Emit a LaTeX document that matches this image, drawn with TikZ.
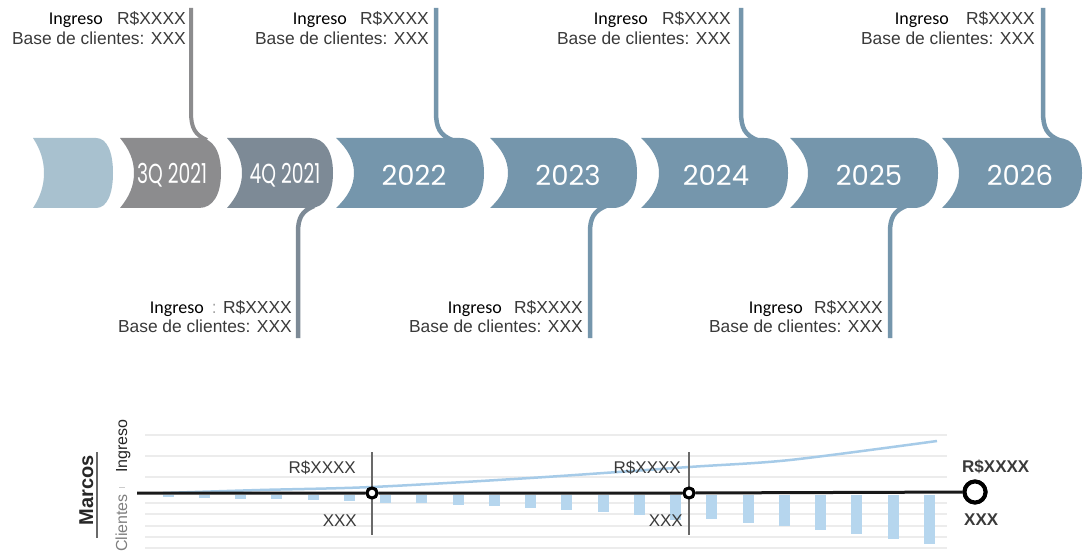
\documentclass[tikz,border=0pt]{standalone}
\usepackage{fontspec}
\usepackage{graphicx}
\setmainfont{Liberation Sans}
\newfontfamily\carl{Carlito}
\newfontfamily\pop{Poppins}
\definecolor{sLight}{RGB}{168,193,207}
\definecolor{sGrey}{RGB}{140,140,142}
\definecolor{sGreyBlue}{RGB}{125,138,150}
\definecolor{sBlue}{RGB}{117,150,172}
\definecolor{txtGrey}{RGB}{58,58,58}
\definecolor{gridGrey}{RGB}{236,236,236}
\definecolor{barBlue}{RGB}{182,214,238}
\definecolor{lineBlue}{RGB}{166,203,232}
\definecolor{markGrey}{RGB}{105,105,105}
\newcommand\chev[5]{%
  \fill[#5] (#1,138) -- ({#2-#4},138) .. controls ({#2-#4*0.35},138) and (#2,152) .. (#2,173)
    .. controls (#2,194) and ({#2-#4*0.35},208) .. ({#2-#4},208) -- (#1,208)
    .. controls ({#1+#3*0.65},197) and ({#1+#3},186) .. ({#1+#3},173)
    .. controls ({#1+#3},160) and ({#1+#3*0.65},149) .. (#1,138) -- cycle;}
% #1 name, #2 line x, #3 Ingreso right edge, #4 baseline of first line, #5 value text
\newcommand\blocklabel[5]{%
  \node[lbl, anchor=base east] (#1r) at ({#2-6},#4) {#5};
  \node[ingr, anchor=base east] (#1i) at (#3,#4) {Ingreso};
  \node[lbl, anchor=base east] (#1b) at ({#2-6},{#4+19.5}) {Base de clientes: XXX};}
\newcommand\yeartext[3]{\node[yr] (#1) at (#2,175) {#3};}
\begin{document}
\begin{tikzpicture}[x=1pt,y=-1pt,
  lbl/.style={inner sep=0pt, text=txtGrey, font=\fontsize{17.4}{20}\selectfont},
  ingr/.style={inner sep=0pt, text=black, font=\carl\fontsize{18}{21}\selectfont},
  yr/.style={inner sep=0pt, text=white, font=\pop\fontsize{27.5}{30}\selectfont},
  stem/.style={line width=4.5pt},
  grid line/.style={draw=gridGrey, line width=1.2pt},
  chartlbl/.style={inner sep=0pt, text=txtGrey, font=\fontsize{17}{20}\selectfont},
  marker/.style={circle, draw=black, fill=white, line width=3pt, minimum size=10pt, inner sep=0pt}]
\useasboundingbox (0,0) rectangle (1083,553);
\fill[white] (0,0) rectangle (1083,553);

% ---------- stems (up) ----------
\coordinate (tA) at (191,8);
\coordinate (tB) at (436,8);
\coordinate (tC) at (741,8);
\coordinate (tD) at (1043,8);
\coordinate (jA) at (207,140);
\coordinate (jB) at (452,140);
\coordinate (jC) at (757,140);
\coordinate (jD) at (1059,140);
\draw[stem, draw=sGrey, line width=4pt] (tA) -- ++(0,104) .. controls ++(0,16) and ++(-12,-5) .. (jA);
\draw[stem, draw=sBlue] (tB) -- ++(0,104) .. controls ++(0,16) and ++(-12,-5) .. (jB);
\draw[stem, draw=sBlue] (tC) -- ++(0,104) .. controls ++(0,16) and ++(-12,-5) .. (jC);
\draw[stem, draw=sBlue] (tD) -- ++(0,104) .. controls ++(0,16) and ++(-12,-5) .. (jD);
% ---------- stems (down) ----------
\coordinate (bE) at (298,338);
\coordinate (bF) at (590,338);
\coordinate (bG) at (890,338);
\coordinate (kE) at (314,206);
\coordinate (kF) at (606,206);
\coordinate (kG) at (906,206);
\draw[stem, draw=sGreyBlue] (bE) -- ++(0,-106) .. controls ++(0,-14) and ++(-12,5) .. (kE);
\draw[stem, draw=sBlue] (bF) -- ++(0,-106) .. controls ++(0,-14) and ++(-12,5) .. (kF);
\draw[stem, draw=sBlue] (bG) -- ++(0,-106) .. controls ++(0,-14) and ++(-12,5) .. (kG);

% ---------- chevrons ----------
\chev{33}{113}{11}{17}{sLight}
\chev{120}{221}{14}{22}{sGrey}
\chev{227}{333}{15}{23}{sGreyBlue}
\chev{336}{484}{18}{24}{sBlue}
\chev{490}{637}{18}{24}{sBlue}
\chev{641}{788}{18}{24}{sBlue}
\chev{790}{938}{18}{24}{sBlue}
\chev{942}{1082}{17}{24}{sBlue}

\yeartext{q3}{172}{\scalebox{0.68}[1]{3Q 2021}}
\yeartext{q4}{285}{\scalebox{0.68}[1]{4Q 2021}}
\yeartext{y22}{414}{2022}
\yeartext{y23}{568}{2023}
\yeartext{y24}{716}{2024}
\yeartext{y25}{869}{2025}
\yeartext{y26}{1020}{2026}

% ---------- labels ----------
\blocklabel{A}{192}{103}{25}{R\$XXXX}
\blocklabel{B}{435}{347}{25}{R\$XXXX}
\blocklabel{C}{737}{648}{25}{R\$XXXX}
\blocklabel{D}{1041}{949}{25}{R\$XXXX}
\blocklabel{E}{298}{204}{313}{{\color{gray!70}:} R\$XXXX}
\blocklabel{F}{589}{502}{313}{R\$XXXX}
\blocklabel{G}{889}{803}{313}{R\$XXXX}

% ---------- chart ----------
\foreach \gy in {435,456,477,503,514,526,537,548}
  \draw[grid line] (145,\gy) -- (947,\gy);
\foreach \i/\b in {0/497,1/498,2/499,3/499,4/500,5/501,6/503,7/503,8/505,9/506,10/508,11/510,12/512,13/515,14/520,15/519,16/523,17/526,18/530,19/534,20/539,21/544}
  \fill[barBlue] ({168+36.25*\i-5.5},495) rectangle ({168+36.25*\i+5.5},\b);
\draw[lineBlue, line width=2.5pt] plot[smooth] coordinates {(163,493) (260,490) (372,487) (530,478) (689,467) (790,460) (937,441)};

\node[marker] (m1) at (372,493) {};
\node[marker] (m2) at (689,493) {};
\node[marker, line width=4pt, minimum size=21pt] (m3) at (975,492) {};
\coordinate (axL) at (137,493);
\draw[black!90, line width=3pt] (axL) -- (m1) -- (m2) -- (m3);
\coordinate (v1t) at (372,452);
\coordinate (v1b) at (372,535);
\coordinate (v2t) at (689,452);
\coordinate (v2b) at (689,535);
\draw[markGrey, line width=1.5pt] (v1t) -- (m1) -- (v1b);
\draw[markGrey, line width=1.5pt] (v2t) -- (m2) -- (v2b);
\node[marker] at (m1) {};
\node[marker] at (m2) {};
\node[marker, line width=4pt, minimum size=21pt] at (m3) {};

\node[chartlbl, anchor=east] (r1) at (356,468) {R\$XXXX};
\node[chartlbl, anchor=east] (x1) at (357,521) {XXX};
\node[chartlbl, anchor=east] (r2) at (681,468) {R\$XXXX};
\node[chartlbl, anchor=east] (x2) at (683,521) {XXX};
\node[chartlbl, anchor=west, font=\fontsize{17}{20}\selectfont\bfseries] (r3) at (962,467) {R\$XXXX};
\node[chartlbl, anchor=west, font=\fontsize{17}{20}\selectfont\bfseries] (x3) at (964,520) {XXX};

\node[rotate=90, anchor=base, inner sep=0pt, text=black!85, font=\fontsize{20}{24}\selectfont\bfseries] (marcos) at (93,490) {Marcos};
\coordinate (ulT) at (97,452);
\coordinate (ulB) at (97,538);
\draw[markGrey, line width=1.5pt] (ulT) -- (ulB);
\node[rotate=90, anchor=base, inner sep=0pt, text=black!85, font=\fontsize{16}{19}\selectfont] (ing) at (127,446) {Ingreso};
\node[rotate=90, anchor=base, inner sep=0pt, text=gray, font=\fontsize{16}{19}\selectfont] (cli) at (127,523) {Clientes};
\coordinate (sepL) at (119,487);
\coordinate (sepR) at (125,487);
\draw[gray!40, line width=1pt] (sepL) -- (sepR);
\end{tikzpicture}
\end{document}
